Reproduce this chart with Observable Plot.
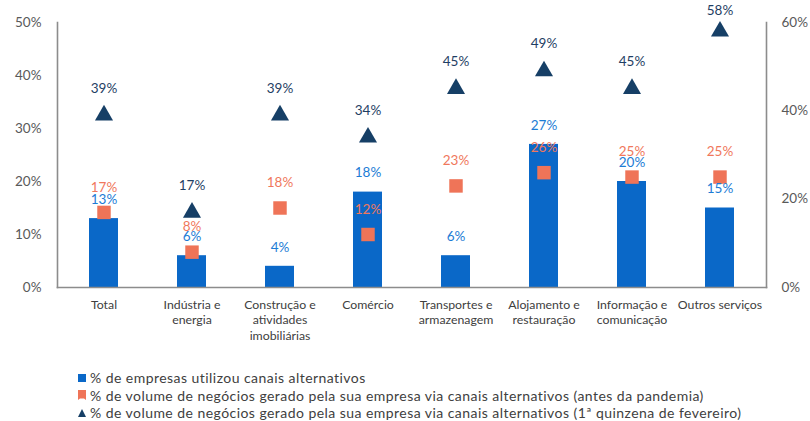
<!DOCTYPE html>
<html>
<head>
<meta charset="utf-8">
<script src="https://cdn.jsdelivr.net/npm/d3@7"></script>
<script src="https://cdn.jsdelivr.net/npm/@observablehq/plot@0.6"></script>
<style>
  html, body { margin: 0; padding: 0; background: #fff; }
  #wrap { position: relative; width: 810px; height: 421px; font-family: Lato, "Open Sans", sans-serif; }
  #legend { position: absolute; left: 77px; top: 369px; font-size: 14px; letter-spacing: 0.45px; color: #404040; }
  .row { height: 17.5px; line-height: 17.5px; white-space: nowrap; display: flex; align-items: center; }
  .row svg { margin-right: 3px; }
</style>
</head>
<body>
<div id="wrap">
  <div id="chart"></div>
  <div id="legend"></div>
</div>
<script>
const categories = ["Total", "Indústria e\nenergia", "Construção e\natividades\nimobiliárias", "Comércio", "Transportes e\narmazenagem", "Alojamento e\nrestauração", "Informação e\ncomunicação", "Outros serviços"];
const empresas = [13, 6, 4, 18, 6, 27, 20, 15];
const antesPandemia = [17, 8, 18, 12, 23, 26, 25, 25];
const fevereiro = [39, 17, 39, 34, 45, 49, 45, 58];
const leftTicks = [0, 10, 20, 30, 40, 50];
const rightTicks = [0, 20, 40, 60];
const seriesNames = [
  "% de empresas utilizou canais alternativos",
  "% de volume de negócios gerado pela sua empresa via canais alternativos (antes da pandemia)",
  "% de volume de negócios gerado pela sua empresa via canais alternativos (1ª quinzena de fevereiro)"
];

const blue = "#0A68C8", orange = "#EF7458", navy = "#163F66";
const blueTxt = "#1C7CD5", orangeTxt = "#F0785C", navyTxt = "#1F3E64";
const gray = "#595959", axisGray = "#8C8C8C";
const k = 50 / 60; // secondary axis (0–60%) mapped onto primary (0–50%)

const data = categories.map((c, i) => ({
  c, e: empresas[i], a: antesPandemia[i], f: fevereiro[i],
  a2: antesPandemia[i] * k, f2: fevereiro[i] * k
}));

const chart = Plot.plot({
  width: 810, height: 360,
  marginTop: 22, marginBottom: 73, marginLeft: 57, marginRight: 44,
  style: { fontFamily: "Lato, 'Open Sans', sans-serif", overflow: "visible", background: "#fff" },
  x: { domain: categories, paddingInner: 0.67, paddingOuter: 0.335, axis: null, label: null },
  y: { domain: [0, 50], axis: null, label: null },
  marks: [
    Plot.barY(data, { x: "c", y: "e", fill: blue }),
    Plot.frame({ anchor: "left", stroke: axisGray, strokeWidth: 1.6 }),
    Plot.frame({ anchor: "right", stroke: axisGray, strokeWidth: 1.6 }),
    Plot.frame({ anchor: "bottom", stroke: axisGray, strokeWidth: 1.6 }),
    Plot.axisY(leftTicks, { anchor: "left", tickSize: 0, tickPadding: 16, label: null, tickFormat: d => d + "%", fontSize: 13.5, color: gray }),
    Plot.axisY(rightTicks.map(d => d * k), { anchor: "right", tickSize: 0, tickPadding: 15, label: null, tickFormat: d => Math.round(d / k) + "%", fontSize: 13.5, color: gray }),
    Plot.axisX({ anchor: "bottom", tickSize: 0, tickPadding: 10, label: null, lineHeight: 1.28, fontSize: 12.3, color: "#404040", tickFormat: d => d }),
    Plot.dot(data, { x: "c", y: "a2", symbol: "square", r: 7.6, fill: orange, stroke: "none" }),
    Plot.dot(data, { x: "c", y: "f2", symbol: "triangle", r: 6.7, fill: navy, stroke: "none" }),
    Plot.text(data, { x: "c", y: "e", text: d => d.e + "%", dy: -19, fill: blueTxt, fontSize: 13.5 }),
    Plot.text(data, { x: "c", y: "a2", text: d => d.a + "%", dy: -25, fill: orangeTxt, fontSize: 13.5 }),
    Plot.text(data, { filter: d => d.f < 55, x: "c", y: "f2", text: d => d.f + "%", dy: -27, fill: navyTxt, fontSize: 13.5 }),
    Plot.text(data, { filter: d => d.f >= 55, x: "c", y: "f2", text: d => d.f + "%", dy: -21, fill: navyTxt, fontSize: 13.5 })
  ]
});
document.getElementById("chart").appendChild(chart);

const markers = [
  `<svg width="10" height="10"><rect x="1" y="1" width="8" height="8" fill="${blue}"/></svg>`,
  `<svg width="10" height="10"><path d="M1,0H9V10L7,8.5H3L1,10Z" fill="${orange}"/></svg>`,
  `<svg width="10" height="10"><path d="M5,1L9,9H1Z" fill="${navy}"/></svg>`
];
const legend = document.getElementById("legend");
seriesNames.forEach((name, i) => {
  const row = document.createElement("div");
  row.className = "row";
  row.innerHTML = markers[i] + "<span></span>";
  row.querySelector("span").textContent = name;
  legend.appendChild(row);
});
</script>
</body>
</html>
